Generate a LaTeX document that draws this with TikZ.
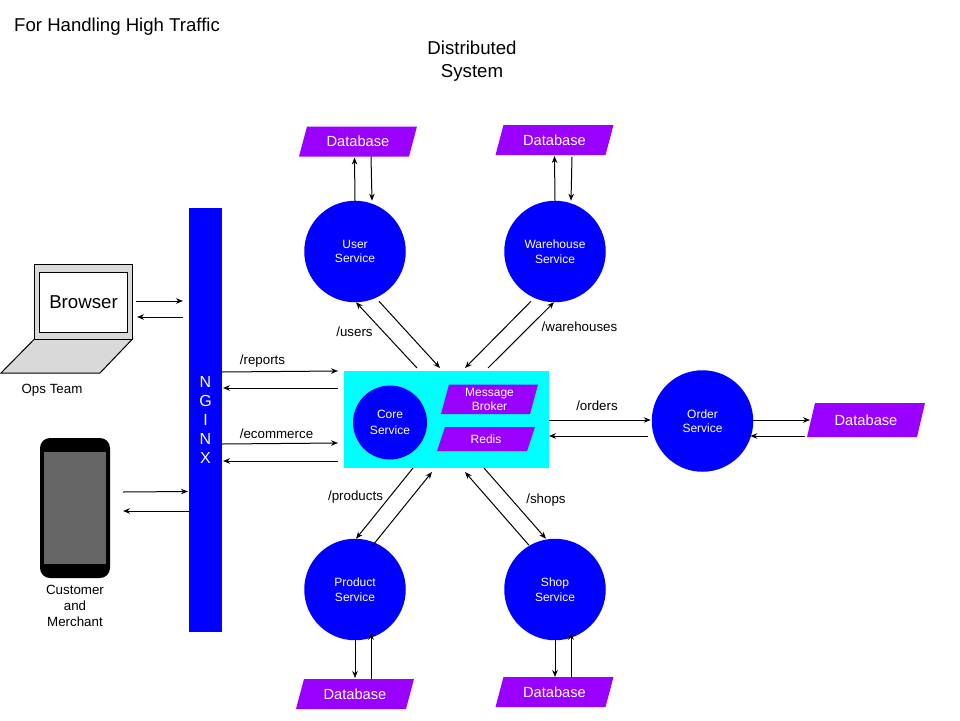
\documentclass[tikz,border=0pt]{standalone}
\usepackage{fontspec}
\setmainfont{Liberation Sans}
\usetikzlibrary{arrows.meta}
\definecolor{srvblue}{HTML}{0000FF}
\definecolor{corecyan}{HTML}{00FFFF}
\definecolor{dbviolet}{HTML}{9900FF}
\definecolor{laptopgray}{HTML}{D9D9D9}
\definecolor{phonegray}{HTML}{666666}
\newcommand{\fsize}[2]{\fontsize{#1}{#2}\selectfont}
\tikzset{
	flow/.style={-{Stealth[length=7pt,width=5.5pt]}, line width=1pt, draw=black},
	service/.style={shape=circle, fill=srvblue, text=white, align=center, minimum size=101.5pt, inner sep=0pt, outer sep=0pt, font=\fsize{12}{14.5}},
	parabox/.style={shape=rectangle, text=white, align=center, inner sep=0pt, outer sep=0pt, path picture={\fill[dbviolet] ([xshift=8pt]path picture bounding box.north west) -- (path picture bounding box.north east) -- ([xshift=-8pt]path picture bounding box.south east) -- (path picture bounding box.south west) -- cycle;}},
	database/.style={parabox, minimum width=118pt, minimum height=30pt, font=\fsize{14.67}{16}},
	routelabel/.style={text=black, inner sep=0pt, font=\fsize{13.33}{16}, align=center},
}
\begin{document}
\begin{tikzpicture}[x=1pt, y=-1pt]
	\useasboundingbox (0,0) rectangle (960,720);

	\node[text=black, inner sep=0pt, font=\fsize{18.6}{23}, anchor=west] (title) at (14,26.5) {For Handling High Traffic};
	\node[text=black, inner sep=0pt, font=\fsize{18.67}{23}, align=center] (subtitle) at (472,61.5) {Distributed\\System};

	\node[shape=rectangle, fill=srvblue, text=white, align=center, minimum width=33pt, minimum height=424pt, inner sep=0pt, outer sep=0pt, font=\fsize{16}{18.9}] (nginx) at (205.5,420) {N\\G\\I\\N\\X};

	\fill[laptopgray, draw=black, line width=1pt] (34.5,339) -- (132.5,339) -- (100,373) -- (1,373) -- cycle;
	\node[shape=rectangle, fill=laptopgray, draw=black, line width=1pt, minimum width=98pt, minimum height=74.5pt, inner sep=0pt, outer sep=0pt] (screen) at (83.5,301.75) {};
	\node[shape=rectangle, fill=white, draw=black, line width=1pt, text=black, minimum width=88pt, minimum height=60pt, inner sep=0pt, outer sep=0pt, font=\fsize{18.67}{23}] (browser) at (83.5,302.5) {Browser};
	\node[routelabel] (ops) at (52,390.5) {Ops Team};

	\node[shape=rectangle, rounded corners=10pt, fill=black, minimum width=70pt, minimum height=140pt, inner sep=0pt, outer sep=0pt] (phone) at (75,508) {};
	\node[shape=rectangle, fill=phonegray, minimum width=62pt, minimum height=111.5pt, inner sep=0pt, outer sep=0pt] (phonescreen) at (75,507.75) {};
	\node[routelabel] (customer) at (75,606) {Customer\\and\\Merchant};

	\node[shape=rectangle, fill=corecyan, minimum width=205pt, minimum height=97pt, inner sep=0pt, outer sep=0pt] (core) at (446.5,419.5) {};
	\node[service, minimum size=74pt, font=\fsize{12}{16}] (coresrv) at (390,422.5) {Core\\Service};
	\node[parabox, minimum width=97pt, minimum height=29.5pt, font=\fsize{12}{14}] (broker) at (489.5,399.25) {Message\\Broker};
	\node[parabox, minimum width=98pt, minimum height=24pt, font=\fsize{12}{14}] (redis) at (486,439) {Redis};

	\node[service] (user) at (355,251.5) {User\\Service};
	\node[service] (warehouse) at (555,251.5) {Warehouse\\Service};
	\node[service] (order) at (702.5,421) {Order\\Service};
	\node[service] (product) at (355,589.5) {Product\\Service};
	\node[service] (shop) at (555,589.5) {Shop\\Service};

	\node[database] (userdb) at (358,141.5) {Database};
	\node[database] (warehousedb) at (554.5,140) {Database};
	\node[database, minimum height=34pt] (orderdb) at (866,420) {Database};
	\node[database] (productdb) at (355,694) {Database};
	\node[database] (shopdb) at (554.5,692) {Database};

	\node[routelabel] (reports) at (262.5,361.5) {/reports};
	\node[routelabel] (ecommerce) at (276.5,433.5) {/ecommerce};
	\node[routelabel] (users) at (354.5,331.5) {/users};
	\node[routelabel] (warehouses) at (579.5,327) {/warehouses};
	\node[routelabel] (orders) at (597,406) {/orders};
	\node[routelabel] (products) at (355.5,497.5) {/products};
	\node[routelabel] (shops) at (546,500.5) {/shops};

	\draw[flow] ([shift={(3.5,-0.75)}]screen.east) -- ([shift={(-6,-119)}]nginx.west);
	\draw[flow] ([shift={(-6,-103)}]nginx.west) -- ([shift={(4.5,15.25)}]screen.east);
	\draw[flow] ([shift={(13,-16)}]phone.east) -- ([shift={(-1,71.5)}]nginx.west);
	\draw[flow] ([shift={(0,91)}]nginx.west) -- ([shift={(13,3)}]phone.east);

	\draw[flow] ([shift={(0,-48)}]nginx.east) -- ([shift={(-6,-48.5)}]core.west);
	\draw[flow] ([shift={(-6,-31.5)}]core.west) -- ([shift={(1,-32)}]nginx.east);
	\draw[flow] ([shift={(0,24)}]nginx.east) -- ([shift={(-6,23.5)}]core.west);
	\draw[flow] ([shift={(-6,41.5)}]core.west) -- ([shift={(1,41)}]nginx.east);

	\draw[flow] ([shift={(0,0.5)}]core.east) -- ([shift={(-1,-1)}]order.west);
	\draw[flow] ([shift={(-4,15)}]order.west) -- ([shift={(0,16.5)}]core.east);
	\draw[flow] ([shift={(0,-1)}]order.east) -- ([shift={(3,0)}]orderdb.west);
	\draw[flow] ([shift={(-2,16)}]orderdb.west) -- ([shift={(-3,15)}]order.east);

	\draw[flow] (user.north) -- ([shift={(-3.5,1)}]userdb.south);
	\draw[flow] ([shift={(13,0)}]userdb.south) -- ([shift={(17,0)}]user.north);
	\draw[flow] (warehouse.north) -- ([shift={(0,1)}]warehousedb.south);
	\draw[flow] ([shift={(17.5,2)}]warehousedb.south) -- ([shift={(16,0)}]warehouse.north);

	\draw[flow] ([shift={(-29.5,-3)}]core.north) -- ([shift={(1,0)}]user.south);
	\draw[flow] ([shift={(24,-1)}]user.south) -- ([shift={(-6.5,-3)}]core.north);
	\draw[flow] ([shift={(-24,-1)}]warehouse.south) -- ([shift={(18.5,-3)}]core.north);
	\draw[flow] ([shift={(41.5,-3)}]core.north) -- ([shift={(-1,0)}]warehouse.south);

	\draw[flow] ([shift={(-33.5,0)}]core.south) -- ([shift={(1,0)}]product.north);
	\draw[flow] ([shift={(17,7.5)}]product.north) -- ([shift={(-14.5,4)}]core.south);
	\draw[flow] ([shift={(-26,6.5)}]shop.north) -- ([shift={(18.5,4)}]core.south);
	\draw[flow] ([shift={(37.5,0)}]core.south) -- ([shift={(-9,0)}]shop.north);

	\draw[flow] (product.south) -- ([shift={(0,-1)}]productdb.north);
	\draw[flow] ([shift={(16,0)}]productdb.north) -- ([shift={(16,-7.5)}]product.south);
	\draw[flow] (shop.south) -- ([shift={(0.5,0)}]shopdb.north);
	\draw[flow] ([shift={(16.5,0)}]shopdb.north) -- ([shift={(16,-7.5)}]shop.south);
\end{tikzpicture}
\end{document}
